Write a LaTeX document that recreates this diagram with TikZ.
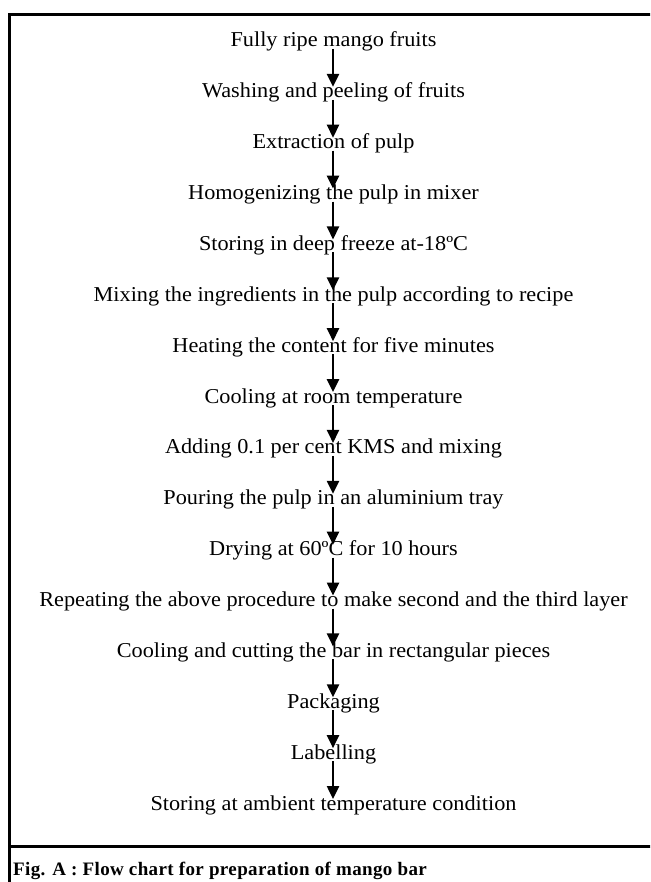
\documentclass[tikz,border=0pt]{standalone}
\usepackage{fontspec}
\setmainfont{Liberation Serif}[FakeStretch=1.05]
\newfontfamily\capfont{Liberation Serif}[LetterSpace=2]
\usetikzlibrary{arrows.meta,calc}
\begin{document}
\begin{tikzpicture}[x=1pt,y=-1pt,
  stepnode/.style={anchor=base,inner sep=0pt,font=\fontsize{21.2}{24}\selectfont},
  flowarrow/.style={line width=2.3pt,-{Triangle[length=13pt,width=12pt]}},
  frameline/.style={line width=3pt}]
\useasboundingbox (0,0) rectangle (650,882);
\clip (0,0) rectangle (650,882);
\draw[frameline] (9.5,900) -- (9.5,14.3) -- (670,14.3);
\draw[frameline] (9.5,846) -- (670,846);
\foreach \t [count=\i from 0] in {
  Fully ripe mango fruits,
  Washing and peeling of fruits,
  Extraction of pulp,
  Homogenizing the pulp in mixer,
  Storing in deep freeze at-18ºC,
  Mixing the ingredients in the pulp according to recipe,
  Heating the content for five minutes,
  Cooling at room temperature,
  Adding 0.1 per cent KMS and mixing,
  Pouring the pulp in an aluminium tray,
  Drying at 60ºC for 10 hours,
  Repeating the above procedure to make second and the third layer,
  Cooling and cutting the bar in rectangular pieces,
  Packaging,
  Labelling,
  Storing at ambient temperature condition}
  {\node[stepnode] (n\i) at (333.5,{47+50.87*\i}) {\t};}
\foreach \i [evaluate=\i as \j using int(\i+1)] in {0,...,14}
  {\draw[flowarrow] ($(n\i.base)+(-0.5,2)$) -- ($(n\j.base)+(-0.5,-11)$);}
\node[anchor=base west,inner sep=0pt,font=\capfont\bfseries\fontsize{19}{22}\selectfont] (cap) at (13,875) {Fig. A : Flow chart for preparation of mango bar};
\end{tikzpicture}
\end{document}
